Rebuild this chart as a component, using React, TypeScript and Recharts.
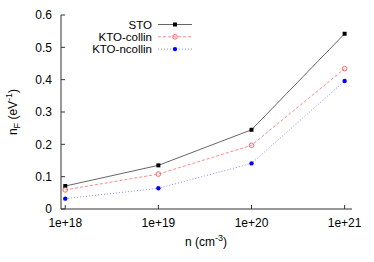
import { Line, LineChart, XAxis, YAxis } from "recharts";

const densities = [1e18, 1e19, 1e20, 1e21];
const xTicks = [1e18, 1e19, 1e20, 1e21];
const yTicks = [0, 0.1, 0.2, 0.3, 0.4, 0.5, 0.6];
const yTickLabels = ["0", "0.1", "0.2", "0.3", "0.4", "0.5", "0.6"];

const sto = [0.071, 0.135, 0.245, 0.542];
const ktoCollin = [0.059, 0.108, 0.197, 0.434];
const ktoNcollin = [0.032, 0.064, 0.141, 0.396];

const FONT = '"Liberation Sans", Arial, Helvetica, sans-serif';
const AXIS = "#333";

const rows = densities.map((n, i) => ({
  n,
  sto: sto[i],
  collin: ktoCollin[i],
  ncollin: ktoNcollin[i],
}));

const fmtExp = (v: number) => "1e+" + Math.round(Math.log10(v));

function SquareDot({ cx, cy }: any) {
  return <rect x={cx - 2} y={cy - 2} width={4} height={4} fill="#000" />;
}
function OpenDot({ cx, cy }: any) {
  return <circle cx={cx} cy={cy} r={2.3} fill="none" stroke="#f66" strokeWidth={1} />;
}
function FilledDot({ cx, cy }: any) {
  return <circle cx={cx} cy={cy} r={2.2} fill="#00f" />;
}

function BottomTick({ x, y, payload }: any) {
  return (
    <g>
      <line x1={x} x2={x} y1={209} y2={205} stroke={AXIS} />
      <text x={x} y={y} dy="0.71em" textAnchor="middle" fontSize={12} fontFamily={FONT} fill="#000">
        {fmtExp(payload.value)}
      </text>
    </g>
  );
}
function TopTick({ x }: any) {
  return <line x1={x} x2={x} y1={15} y2={19} stroke={AXIS} />;
}
function LeftTick({ y, payload, index }: any) {
  return (
    <g>
      <line x1={61} x2={65} y1={y} y2={y} stroke={AXIS} />
      <text x={52} y={y} dy="0.35em" textAnchor="end" fontSize={12} fontFamily={FONT} fill="#000">
        {yTickLabels[index] ?? String(payload.value)}
      </text>
    </g>
  );
}
function RightTick({ y }: any) {
  return <line x1={352} x2={348} y1={y} y2={y} stroke={AXIS} />;
}

const legend = [
  { name: "STO", color: "#666", dash: undefined, Dot: SquareDot },
  { name: "KTO-collin", color: "#f88", dash: "3 2", Dot: OpenDot },
  { name: "KTO-ncollin", color: "#88f", dash: "1 2", Dot: FilledDot },
];

export default function App() {
  return (
    <div style={{ position: "absolute", left: 0, top: 0, width: 374, height: 262, background: "#fff" }}>
      <LineChart width={374} height={262} data={rows} margin={{ top: 15, right: 22, bottom: 0, left: 0 }}>
        <XAxis
          dataKey="n"
          type="number"
          scale="log"
          domain={[9e17, 1.2e21]}
          ticks={xTicks}
          interval={0}
          height={53}
          tickSize={0}
          tickMargin={9}
          tickLine={false}
          stroke={AXIS}
          tick={BottomTick}
          allowDataOverflow
        />
        <XAxis
          xAxisId="top"
          dataKey="n"
          type="number"
          scale="log"
          domain={[9e17, 1.2e21]}
          ticks={xTicks}
          interval={0}
          orientation="top"
          height={0}
          tickSize={0}
          tickLine={false}
          stroke={AXIS}
          tick={TopTick}
          allowDataOverflow
        />
        <YAxis
          type="number"
          domain={[0, 0.6]}
          ticks={yTicks}
          width={61}
          tickSize={0}
          tickLine={false}
          stroke={AXIS}
          tick={LeftTick}
          interval={0}
        />
        <YAxis
          yAxisId="right"
          orientation="right"
          type="number"
          domain={[0, 0.6]}
          ticks={yTicks}
          width={0}
          tickSize={0}
          tickLine={false}
          stroke={AXIS}
          tick={RightTick}
          interval={0}
        />
        <Line dataKey="sto" stroke="#666" strokeWidth={1} dot={<SquareDot />} isAnimationActive={false} />
        <Line dataKey="collin" stroke="#f88" strokeWidth={1} strokeDasharray="3 2" dot={<OpenDot />} isAnimationActive={false} />
        <Line dataKey="ncollin" stroke="#88f" strokeWidth={1} strokeDasharray="1 2" dot={<FilledDot />} isAnimationActive={false} />

        {legend.map((s, i) => {
          const y = 24.5 + i * 12.3;
          const D = s.Dot;
          return (
            <g key={s.name}>
              <text x={152} y={y} dy="0.35em" textAnchor="end" fontSize={11.5} fontFamily={FONT} fill="#000">
                {s.name}
              </text>
              <line x1={158} x2={192} y1={y} y2={y} stroke={s.color} strokeDasharray={s.dash} />
              <D cx={175} cy={y} />
            </g>
          );
        })}

        <text x={206} y={246} textAnchor="middle" fontSize={12} fontFamily={FONT} fill="#000">
          n (cm
          <tspan dy={-5} fontSize={9}>-3</tspan>
          <tspan dy={5}>)</tspan>
        </text>
        <text
          transform="translate(17,112) rotate(-90)"
          textAnchor="middle"
          fontSize={12}
          fontFamily={FONT}
          fill="#000"
        >
          n
          <tspan dy={3} fontSize={9}>F</tspan>
          <tspan dy={-3}> (eV</tspan>
          <tspan dy={-5} fontSize={9}>-1</tspan>
          <tspan dy={5}>)</tspan>
        </text>
      </LineChart>
    </div>
  );
}
